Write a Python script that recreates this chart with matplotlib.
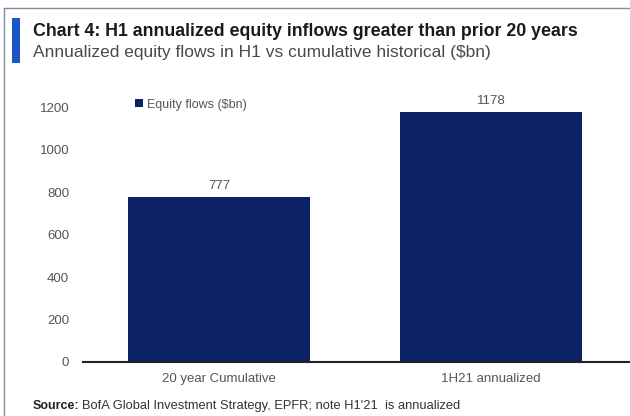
import matplotlib.pyplot as plt
from matplotlib.patches import Rectangle
from matplotlib.lines import Line2D

plt.rcParams['font.family'] = ['Liberation Sans', 'DejaVu Sans']

categories = ['20 year Cumulative', '1H21 annualized']
flows = [777, 1178]
yticks = [0, 200, 400, 600, 800, 1000, 1200]

navy = '#0b2265'
grey = '#555555'

fig = plt.figure(figsize=(6.3, 4.16), dpi=100)

# frame of the clipped screenshot
fig.add_artist(Line2D([4/630, 1], [1-8/416, 1-8/416], color='#7f8ea3', lw=1))
fig.add_artist(Line2D([4/630, 4/630], [0, 1-8/416], color='#7f8ea3', lw=1))
# blue accent bar
fig.add_artist(Rectangle((12/630, 1-63/416), 8/630, 45/416, color='#1a56c8', lw=0))

fig.text(33/630, 1-31/416, 'Chart 4: H1 annualized equity inflows greater than prior 20 years',
         fontsize=12.8, fontweight='bold', color='#1a1a1a', va='center')
fig.text(33/630, 1-53/416, 'Annualized equity flows in H1 vs cumulative historical ($bn)',
         fontsize=12.5, color='#4a4a4a', va='center')
fig.text(33/630, 1-406/416, 'Source:', fontsize=9, fontweight='bold',
         color='#222222', va='center')
fig.text(82/630, 1-406/416, "BofA Global Investment Strategy, EPFR; note H1'21  is annualized",
         fontsize=9.3, color='#333333', va='center')

ax = fig.add_axes([83/630, 1-362/416, 1-83/630, (362-86)/416])
x = range(len(categories))
ax.bar(x, flows, width=0.67, color=navy, label='Equity flows ($bn)')
for xi, v in zip(x, flows):
    ax.text(xi, v + 25, str(v), ha='center', va='bottom', fontsize=9.5, color=grey)

ax.set_xlim(-0.5, 1.511)
ax.set_ylim(0, 1300)
ax.set_yticks(yticks)
ax.set_xticks(list(x))
ax.set_xticklabels(categories)
ax.tick_params(axis='both', length=0, labelsize=9.5, labelcolor=grey)
ax.tick_params(axis='y', pad=10)
ax.tick_params(axis='x', pad=8)
for s in ['top', 'right', 'left']:
    ax.spines[s].set_visible(False)
ax.spines['bottom'].set_color('#222222')
ax.spines['bottom'].set_linewidth(1.5)

ax.legend(loc='upper left', bbox_to_anchor=(0.075, 0.995), frameon=False, fontsize=9,
          handlelength=0.6, handleheight=0.6, handletextpad=0.3, labelcolor=grey)

fig.savefig('out.png', dpi=100)
